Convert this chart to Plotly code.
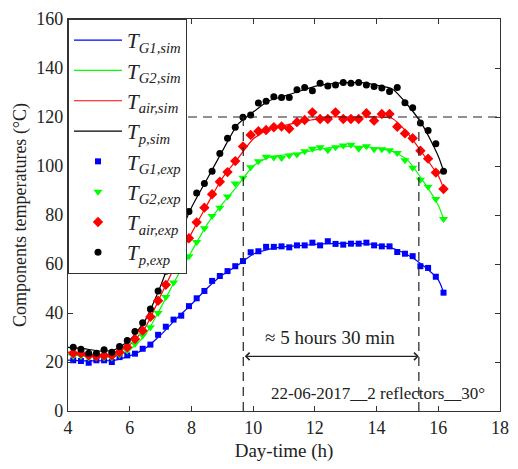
import plotly.graph_objects as go

# ---------------- data ----------------
x_exp = [4.17, 4.42, 4.67, 4.92, 5.17, 5.42, 5.67, 5.92, 6.17, 6.42,
         6.67, 6.92, 7.17, 7.42, 7.67, 7.92, 8.17, 8.42, 8.67, 8.92,
         9.17, 9.42, 9.67, 9.92, 10.17, 10.42, 10.67, 10.92, 11.17, 11.42,
         11.67, 11.92, 12.17, 12.42, 12.67, 12.92, 13.17, 13.42, 13.67, 13.92,
         14.17, 14.42, 14.67, 14.92, 15.17, 15.42, 15.67, 15.92, 16.17]

tg1_exp = [20.7, 20.4, 19.7, 20.7, 20.7, 20.0, 22.0, 22.7, 23.4, 25.4,
           27.1, 31.1, 34.4, 37.3, 38.9, 42.8, 46.0, 49.0, 53.1, 55.1,
           57.1, 59.1, 61.2, 64.8, 65.2, 67.0, 67.0, 67.2, 66.8, 67.6,
           67.6, 68.7, 67.6, 69.3, 68.2, 67.9, 68.3, 68.3, 68.7, 67.6,
           67.2, 67.2, 64.9, 64.2, 63.2, 59.1, 58.4, 54.8, 48.3]

tg2_exp = [22.5, 22.5, 21.8, 21.8, 21.8, 21.8, 23.0, 24.7, 27.4, 30.8,
           34.2, 40.0, 46.5, 52.4, 57.8, 63.2, 69.0, 74.6, 79.6, 83.0,
           87.5, 92.9, 95.2, 99.5, 101.9, 103.8, 103.5, 103.3, 104.3, 104.7,
           106.0, 107.0, 107.7, 106.4, 107.7, 108.4, 108.7, 107.0, 108.1, 106.8,
           106.8, 106.4, 105.3, 102.3, 99.3, 94.4, 91.5, 86.5, 78.4]

tair_exp = [23.6, 23.6, 22.7, 22.3, 22.7, 22.7, 24.0, 26.0, 29.4, 32.8,
            38.5, 45.0, 51.5, 58.0, 64.5, 70.5, 77.0, 83.0, 88.5, 93.6,
            97.5, 102.0, 108.0, 112.7, 114.2, 114.7, 115.8, 116.1, 115.2, 117.9,
            118.8, 121.9, 119.2, 119.2, 121.9, 119.2, 119.2, 119.2, 121.5, 118.5,
            121.2, 121.2, 116.0, 113.3, 111.3, 106.2, 103.0, 97.3, 90.6]

tp_exp = [26.0, 25.2, 23.6, 23.6, 25.0, 24.0, 26.3, 28.8, 32.5, 36.0,
          41.6, 49.0, 57.0, 65.0, 73.5, 81.4, 89.0, 92.9, 97.9, 105.1,
          111.3, 115.8, 119.9, 120.8, 125.7, 126.4, 128.3, 128.0, 128.0, 131.1,
          132.0, 130.7, 133.8, 132.7, 133.1, 134.1, 133.8, 134.1, 133.1, 132.4,
          131.8, 130.4, 132.0, 125.8, 123.8, 117.6, 114.5, 109.1, 97.9]

x_sim = [4.0, 4.5, 5.0, 5.5, 6.0, 6.5, 7.0, 7.5, 8.0, 8.5, 9.0, 9.5, 10.0,
         10.5, 11.0, 11.5, 12.0, 12.5, 13.0, 13.5, 14.0, 14.5, 15.0, 15.5,
         16.0, 16.17]
tg1_sim = [20.8, 20.5, 20.5, 20.7, 22.5, 25.5, 31.0, 37.5, 43.5, 50.0, 55.5,
           59.5, 64.0, 66.0, 67.0, 67.5, 68.0, 68.3, 68.4, 68.3, 67.8, 66.5,
           63.8, 59.5, 53.5, 48.5]
tg2_sim = [23.0, 22.5, 22.0, 22.5, 25.0, 31.0, 42.0, 54.0, 65.0, 76.0, 84.5,
           92.0, 100.0, 103.5, 104.5, 105.3, 106.5, 107.5, 108.0, 108.0, 107.3,
           106.0, 102.5, 94.0, 84.0, 78.5]
tair_sim = [24.0, 23.5, 23.0, 23.5, 27.0, 34.0, 47.0, 60.0, 72.5, 84.0, 95.0,
            103.0, 111.0, 115.0, 116.5, 118.0, 119.0, 120.0, 120.0, 120.0, 120.0,
            119.5, 113.5, 105.0, 96.0, 91.0]
tp_sim = [26.0, 25.5, 24.5, 25.0, 29.0, 37.0, 51.0, 68.0, 83.0, 94.5, 106.0,
          117.0, 122.0, 126.5, 128.5, 130.5, 132.5, 133.5, 134.0, 134.0, 133.0,
          131.5, 125.0, 116.5, 104.0, 98.0]

x_start, x_end = 9.68, 15.37
t_limit = 120
x_ticks = [4, 6, 8, 10, 12, 14, 16, 18]
y_ticks = [0, 20, 40, 60, 80, 100, 120, 140, 160]

FONT = "Liberation Serif, Times New Roman, serif"

def lab(sub):
    return "<i>T</i><sub><i>" + sub + "</i></sub>"

fig = go.Figure()

sims = [(tg1_sim, "#0000FF", "G1,sim"), (tg2_sim, "#00FF00", "G2,sim"),
        (tair_sim, "#FF0000", "air,sim"), (tp_sim, "#000000", "p,sim")]
for i, (ys, c, s) in enumerate(sims):
    fig.add_trace(go.Scatter(x=x_sim, y=ys, mode="lines", name=lab(s),
                             legendgroup="g%d" % i,
                             line=dict(color=c, width=1.2, shape="spline", smoothing=0.6)))

exps = [(tg1_exp, "#0000FF", "square", 6, "G1,exp"),
        (tg2_exp, "#00FF00", "triangle-down", 8, "G2,exp"),
        (tair_exp, "#FF0000", "diamond", 8, "air,exp"),
        (tp_exp, "#000000", "circle", 7, "p,exp")]
for i, (ys, c, sym, sz, s) in enumerate(exps):
    fig.add_trace(go.Scatter(x=x_exp, y=ys, mode="markers", name=lab(s),
                             legendgroup="e%d" % i,
                             marker=dict(color=c, symbol=sym, size=sz, line=dict(width=0))))

# dashed reference lines
dash = "9px,6px"
fig.add_shape(type="line", x0=4, x1=18, y0=t_limit, y1=t_limit, xref="x", yref="y",
              line=dict(color="#222", width=1.2, dash=dash))
for xv in (x_start, x_end):
    fig.add_shape(type="line", x0=xv, x1=xv, y0=0, y1=t_limit, xref="x", yref="y",
                  line=dict(color="#222", width=1.2, dash=dash))

# double arrow
fig.add_annotation(x=x_end, y=22.3, ax=x_start, ay=22.3, xref="x", yref="y",
                   axref="x", ayref="y", text="", showarrow=True,
                   arrowhead=4, arrowside="end+start", arrowsize=1.1,
                   arrowwidth=1.3, arrowcolor="#222", standoff=0, startstandoff=0)
fig.add_annotation(x=12.5, y=30, xref="x", yref="y", text="≈ 5 hours 30 min",
                   showarrow=False, font=dict(family=FONT, size=19, color="#222"))
fig.add_annotation(x=14.05, y=7.3, xref="x", yref="y",
                   text="22-06-2017__2 reflectors__30°",
                   showarrow=False, font=dict(family=FONT, size=17, color="#222"))

axis_common = dict(showline=True, linecolor="#333", linewidth=1.2, mirror="ticks",
                   ticks="inside", ticklen=5, tickcolor="#333", showgrid=False,
                   zeroline=False, tickfont=dict(family=FONT, size=18, color="#222"))
fig.update_xaxes(range=[4, 18], tickvals=x_ticks,
                 title=dict(text="Day-time (h)", font=dict(family=FONT, size=19, color="#222"),
                            standoff=6), **axis_common)
fig.update_yaxes(range=[0, 160], tickvals=y_ticks,
                 title=dict(text="Components temperatures (°C)",
                            font=dict(family=FONT, size=18, color="#222"), standoff=4),
                 **axis_common)

fig.update_layout(
    width=518, height=469,
    margin=dict(l=68, r=9, t=16, b=58),
    plot_bgcolor="white", paper_bgcolor="white",
    font=dict(family=FONT, color="#222"),
    legend=dict(x=0, y=1, xanchor="left", yanchor="top", bgcolor="white",
                bordercolor="#333", borderwidth=1,
                font=dict(family=FONT, size=21, color="#222"),
                tracegroupgap=0, itemwidth=48),
)

fig.write_html("out.html")
